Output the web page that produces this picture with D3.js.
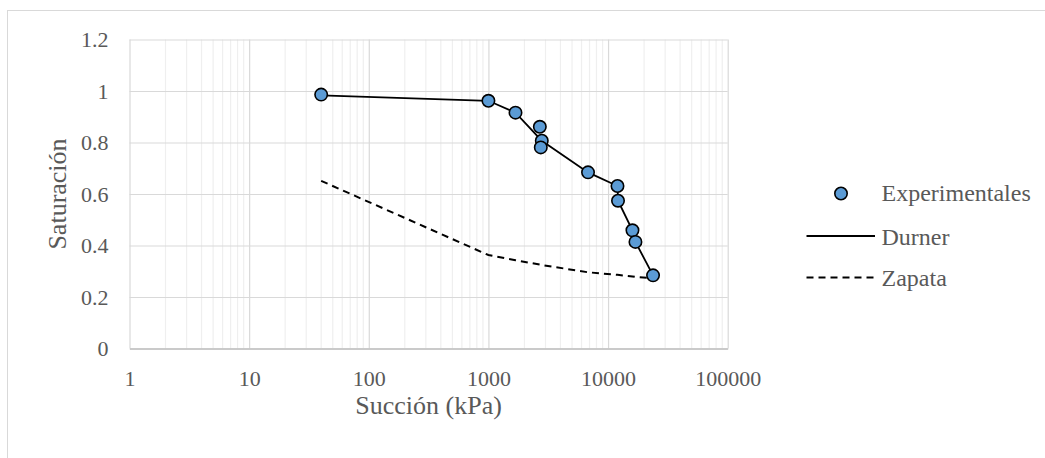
<!DOCTYPE html>
<html>
<head>
<meta charset="utf-8">
<script src="https://cdn.jsdelivr.net/npm/d3@7"></script>
<style>
  html, body { margin: 0; padding: 0; background: #ffffff; }
  svg { display: block; }
  text { font-family: "Liberation Serif", "Times New Roman", serif; fill: #595959; }
</style>
</head>
<body>
<svg id="chart" width="1045" height="458"></svg>
<script>
// Suction (kPa) and saturation of the measured points
const expSuction = [40, 1000, 1684, 2690, 2793, 2740, 6800, 11990, 12110, 15990, 16940, 23770];
const expSat     = [0.986, 0.962, 0.916, 0.861, 0.807, 0.781, 0.684, 0.631, 0.574, 0.459, 0.414, 0.284];

// Durner model curve
const durnerSuction = [40, 1000, 1684, 2793, 6800, 11990, 12110, 15990, 16940, 23770];
const durnerSat     = [0.983, 0.962, 0.916, 0.807, 0.684, 0.631, 0.574, 0.459, 0.414, 0.284];

// Zapata model curve
const zapataSuction = [40, 1000, 1684, 2740, 6800, 11990, 15990, 16940, 23770];
const zapataSat     = [0.651, 0.363, 0.343, 0.325, 0.296, 0.286, 0.280, 0.278, 0.273];

// Axis ticks
const xTicks = [1, 10, 100, 1000, 10000, 100000];
const yTicks = [0, 0.2, 0.4, 0.6, 0.8, 1, 1.2];

const svg = d3.select("#chart");
const plotLeft = 129.5, plotRight = 727.7, plotTop = 39.5, plotBottom = 348.5;

const x = d3.scaleLog().domain([1, 100000]).range([plotLeft, plotRight]);
const y = d3.scaleLinear().domain([0, 1.2]).range([plotBottom, plotTop]);

// Chart frame
svg.append("rect")
  .attr("x", 7.5).attr("y", 10.5)
  .attr("width", 1100).attr("height", 600)
  .attr("fill", "none").attr("stroke", "#d9d9d9").attr("stroke-width", 1);

// Minor vertical gridlines (2..9 within each decade)
const minor = [];
for (let d = 1; d < 100000; d *= 10) {
  for (let k = 2; k <= 9; k++) minor.push(d * k);
}
svg.append("g")
  .selectAll("line").data(minor).join("line")
  .attr("x1", d => x(d)).attr("x2", d => x(d))
  .attr("y1", plotTop).attr("y2", plotBottom)
  .attr("stroke", "#efefef").attr("stroke-width", 1.2);

// Horizontal gridlines
svg.append("g")
  .attr("transform", `translate(${plotLeft},0)`)
  .call(d3.axisLeft(y).tickValues(yTicks).tickSize(-(plotRight - plotLeft)).tickFormat(""))
  .call(g => g.select(".domain").remove())
  .call(g => g.selectAll("line").attr("stroke", "#d9d9d9").attr("stroke-width", 1.2));

// Major vertical gridlines
svg.append("g")
  .attr("transform", `translate(0,${plotBottom})`)
  .call(d3.axisBottom(x).tickValues(xTicks).tickSize(-(plotBottom - plotTop)).tickFormat(""))
  .call(g => g.select(".domain").remove())
  .call(g => g.selectAll("line").attr("stroke", "#d9d9d9").attr("stroke-width", 1.2));

// Bottom axis with labels
svg.append("g")
  .attr("transform", `translate(0,${plotBottom})`)
  .call(d3.axisBottom(x).tickValues(xTicks).tickSize(0).tickPadding(22).tickFormat(d3.format("d")))
  .call(g => g.select(".domain").attr("stroke", "#bfbfbf").attr("stroke-width", 1.5))
  .call(g => g.selectAll("text")
    .attr("font-size", 22).attr("fill", "#595959")
    .style("font-family", "'Liberation Serif', 'Times New Roman', serif"));

// Left axis labels
svg.append("g")
  .attr("transform", `translate(${plotLeft},0)`)
  .call(d3.axisLeft(y).tickValues(yTicks).tickSize(0).tickPadding(21).tickFormat(d3.format("")))
  .call(g => g.select(".domain").remove())
  .call(g => g.selectAll("text")
    .attr("font-size", 22).attr("fill", "#595959")
    .style("font-family", "'Liberation Serif', 'Times New Roman', serif"));

// Axis titles
svg.append("text")
  .attr("x", (plotLeft + plotRight) / 2).attr("y", 414)
  .attr("text-anchor", "middle").attr("font-size", 26)
  .text("Succión (kPa)");

svg.append("text")
  .attr("transform", "translate(66,194) rotate(-90)")
  .attr("text-anchor", "middle").attr("font-size", 26)
  .text("Saturación");

// Curves
const line = d3.line().x(d => x(d[0])).y(d => y(d[1]));

svg.append("path")
  .datum(zapataSuction.map((s, i) => [s, zapataSat[i]]))
  .attr("d", line)
  .attr("fill", "none").attr("stroke", "#000").attr("stroke-width", 2)
  .attr("stroke-dasharray", "7,5");

svg.append("path")
  .datum(durnerSuction.map((s, i) => [s, durnerSat[i]]))
  .attr("d", line)
  .attr("fill", "none").attr("stroke", "#000").attr("stroke-width", 1.8);

// Measured points
svg.append("g")
  .selectAll("circle")
  .data(expSuction.map((s, i) => [s, expSat[i]]))
  .join("circle")
  .attr("cx", d => x(d[0])).attr("cy", d => y(d[1]))
  .attr("r", 6.2)
  .attr("fill", "#5b9bd5").attr("stroke", "#000").attr("stroke-width", 1.6);

// Legend
const legend = svg.append("g").attr("font-size", 24);
legend.append("circle")
  .attr("cx", 841).attr("cy", 193.5).attr("r", 6.2)
  .attr("fill", "#5b9bd5").attr("stroke", "#000").attr("stroke-width", 1.6);
legend.append("text").attr("x", 881.5).attr("y", 201).text("Experimentales");

legend.append("line")
  .attr("x1", 806.5).attr("x2", 875).attr("y1", 236).attr("y2", 236)
  .attr("stroke", "#000").attr("stroke-width", 1.8);
legend.append("text").attr("x", 881.5).attr("y", 245).text("Durner");

legend.append("line")
  .attr("x1", 806.5).attr("x2", 875).attr("y1", 277.5).attr("y2", 277.5)
  .attr("stroke", "#000").attr("stroke-width", 2)
  .attr("stroke-dasharray", "7,5");
legend.append("text").attr("x", 881.5).attr("y", 286).text("Zapata");
</script>
</body>
</html>
